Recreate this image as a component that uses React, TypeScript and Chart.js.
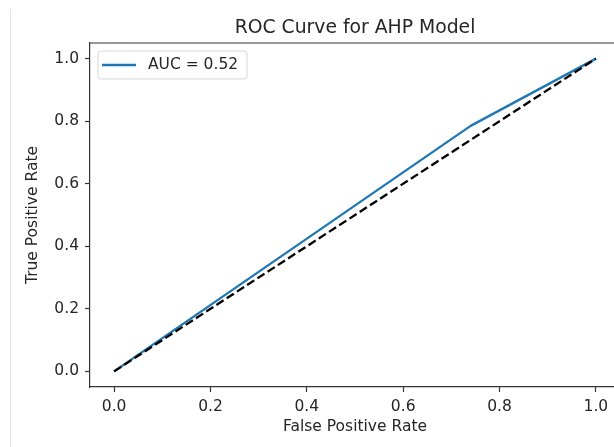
import React, { useEffect, useRef } from "react";
import { Chart, registerables } from "chart.js";

Chart.register(...registerables);

// ---- data ----
const rocFpr = [0, 0.74, 1];
const rocTpr = [0, 0.785, 1];
const diagX = [0, 1];
const diagY = [0, 1];
const xTickValues = [0, 0.2, 0.4, 0.6, 0.8, 1.0];
const yTickValues = [0, 0.2, 0.4, 0.6, 0.8, 1.0];
const aucLabel = "AUC = 0.52";
const chartTitle = "ROC Curve for AHP Model";
const xLabel = "False Positive Rate";
const yLabel = "True Positive Rate";

const FONT = "'DejaVu Sans', sans-serif";
const BLUE = "#1f77b4";
const INK = "#262626";
const SPINE = "#333333";

const framePlugin = {
  id: "frame",
  beforeDatasetsDraw(chart: any) {
    const { ctx, chartArea } = chart;
    ctx.save();
    ctx.strokeStyle = SPINE;
    ctx.lineWidth = 1.2;
    ctx.beginPath();
    ctx.moveTo(chartArea.left, chartArea.top);
    ctx.lineTo(chartArea.right, chartArea.top);
    ctx.lineTo(chartArea.right, chartArea.bottom);
    ctx.stroke();
    ctx.restore();
  },
};

const boxLegendPlugin = {
  id: "boxLegend",
  afterDraw(chart: any) {
    const { ctx, chartArea } = chart;
    const ds = chart.data.datasets[1];
    const x = chartArea.left + 8;
    const y = chartArea.top + 8;
    const w = 149;
    const h = 28;
    const r = 3;
    ctx.save();
    ctx.beginPath();
    ctx.moveTo(x + r, y);
    ctx.lineTo(x + w - r, y);
    ctx.arcTo(x + w, y, x + w, y + r, r);
    ctx.lineTo(x + w, y + h - r);
    ctx.arcTo(x + w, y + h, x + w - r, y + h, r);
    ctx.lineTo(x + r, y + h);
    ctx.arcTo(x, y + h, x, y + h - r, r);
    ctx.lineTo(x, y + r);
    ctx.arcTo(x, y, x + r, y, r);
    ctx.closePath();
    ctx.fillStyle = "rgba(255,255,255,0.8)";
    ctx.fill();
    ctx.strokeStyle = "rgba(204,204,204,0.8)";
    ctx.lineWidth = 1;
    ctx.stroke();
    const cy = y + 14;
    ctx.strokeStyle = ds.borderColor;
    ctx.lineWidth = ds.borderWidth;
    ctx.beginPath();
    ctx.moveTo(x + 4, cy);
    ctx.lineTo(x + 38, cy);
    ctx.stroke();
    ctx.fillStyle = INK;
    ctx.font = `15.5px ${FONT}`;
    ctx.textBaseline = "middle";
    ctx.textAlign = "left";
    ctx.fillText(ds.label, x + 50, cy);
    ctx.restore();
  },
};

export default function App() {
  const ref = useRef<HTMLCanvasElement | null>(null);

  useEffect(() => {
    document.body.style.overflow = "hidden";
    const canvas = ref.current!;
    const tickFont = { family: FONT, size: 15.5 };
    const chart = new Chart(canvas, {
      type: "line",
      data: {
        datasets: [
          {
            label: "diagonal",
            data: diagX.map((v, i) => ({ x: v, y: diagY[i] })),
            borderColor: "#000000",
            borderWidth: 2.3,
            borderDash: [8.5, 3.7],
            pointRadius: 0,
            tension: 0,
            fill: false,
            order: 0,
          },
          {
            label: aucLabel,
            data: rocFpr.map((v, i) => ({ x: v, y: rocTpr[i] })),
            borderColor: BLUE,
            borderWidth: 2.3,
            pointRadius: 0,
            tension: 0,
            fill: false,
            borderJoinStyle: "round",
            order: 1,
          },
        ],
      },
      options: {
        animation: false,
        responsive: false,
        devicePixelRatio: 1,
        layout: { padding: { left: 0, right: 20, top: 0, bottom: 0 } },
        plugins: {
          legend: { display: false },
          tooltip: { enabled: false },
          title: {
            display: true,
            text: chartTitle,
            fullSize: false,
            color: INK,
            font: { family: FONT, size: 18.8, weight: "normal", lineHeight: 1.2 },
            padding: { top: 16.8, bottom: 3.64 },
          },
        },
        scales: {
          x: {
            type: "linear",
            min: -0.05,
            max: 1.05,
            afterBuildTicks: (s: any) => {
              s.ticks = xTickValues.map((v) => ({ value: v }));
            },
            afterFit: (s: any) => {
              s.height = 60;
            },
            ticks: {
              color: INK,
              font: tickFont,
              padding: 5.5,
              maxRotation: 0,
              callback: (v: any) => Number(v).toFixed(1),
            },
            grid: {
              drawOnChartArea: false,
              drawTicks: true,
              tickLength: 5,
              tickColor: SPINE,
              tickWidth: 1.2,
            },
            border: { display: true, color: SPINE, width: 1.2 },
            title: {
              display: true,
              text: xLabel,
              color: INK,
              font: { family: FONT, size: 15.5, lineHeight: 1.2 },
              padding: { top: 0, bottom: 10.7 },
            },
          },
          y: {
            type: "linear",
            min: -0.05,
            max: 1.05,
            afterBuildTicks: (s: any) => {
              s.ticks = yTickValues.map((v) => ({ value: v }));
            },
            afterFit: (s: any) => {
              s.width = 90;
            },
            ticks: {
              color: INK,
              font: tickFont,
              padding: 6,
              callback: (v: any) => Number(v).toFixed(1),
            },
            grid: {
              drawOnChartArea: false,
              drawTicks: true,
              tickLength: 5,
              tickColor: SPINE,
              tickWidth: 1.2,
            },
            border: { display: true, color: SPINE, width: 1.2 },
            title: {
              display: true,
              text: yLabel,
              color: INK,
              font: { family: FONT, size: 15.5, lineHeight: 1.2 },
              padding: { top: 23.7, bottom: 0 },
            },
          },
        },
      },
      plugins: [framePlugin, boxLegendPlugin],
    } as any);
    return () => chart.destroy();
  }, []);

  return (
    <div style={{ position: "fixed", left: 0, top: 0, width: 640, height: 447, background: "#ffffff" }}>
      <div
        style={{
          position: "absolute",
          left: 10,
          top: 9,
          width: 1,
          height: 438,
          background: "#e3e3e3",
        }}
      />
      <canvas ref={ref} width={640} height={447} style={{ position: "absolute", left: 0, top: 0 }} />
    </div>
  );
}
